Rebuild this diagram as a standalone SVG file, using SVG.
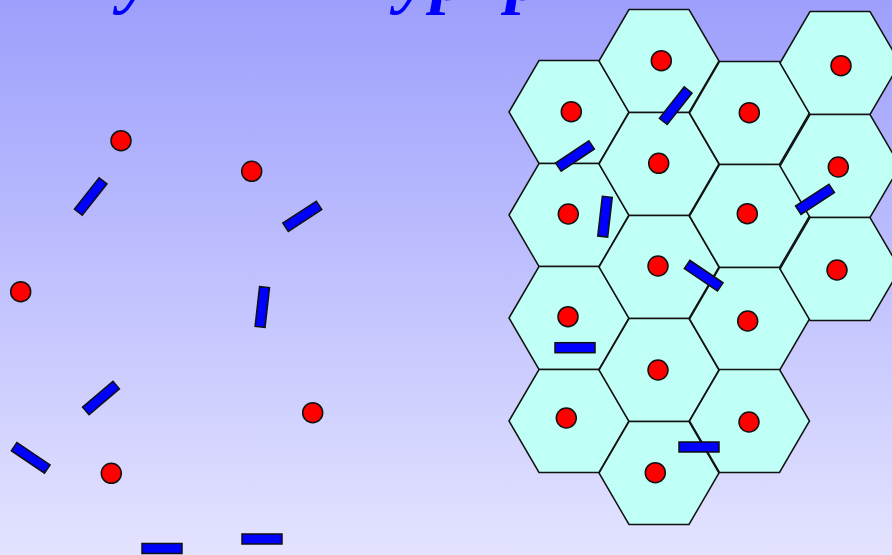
<svg xmlns="http://www.w3.org/2000/svg" width="892" height="555" viewBox="0 0 892 555">
<defs>
<linearGradient id="bg" x1="0" y1="0" x2="0" y2="1">
<stop offset="0" stop-color="#9d9ffc"/>
<stop offset="1" stop-color="#e3e3ff"/>
</linearGradient>
<polygon id="hex" points="-60,0 -30,-51.5 30,-51.5 60,0 30,51.5 -30,51.5"/>
<rect id="bar" x="-20" y="-5" width="40" height="10"/>
</defs>
<style>
.hex{fill:#c0fff6;stroke:#111;stroke-width:1.5}
.dot{fill:#ff0000;stroke:#111;stroke-width:1.5}
.bar{fill:#0000ff;stroke:#111;stroke-width:1.5}
.title{font-family:"Liberation Serif","Times New Roman",serif;font-style:italic;font-weight:bold;font-size:72px;fill:#0000ff}
</style>
<rect width="892" height="555" fill="url(#bg)"/>
<g id="title-fragments">
<text class="title" x="120" y="0">y</text>
<text class="title" x="397" y="0">y</text>
<text class="title" x="431" y="0">p</text>
<text class="title" x="506" y="0">p</text>
</g>
<g id="hexes">
<use href="#hex" class="hex" x="569" y="112"/>
<use href="#hex" class="hex" x="569" y="215"/>
<use href="#hex" class="hex" x="569" y="318"/>
<use href="#hex" class="hex" x="569" y="421"/>
<use href="#hex" class="hex" x="659" y="61"/>
<use href="#hex" class="hex" x="659" y="164"/>
<use href="#hex" class="hex" x="659" y="267"/>
<use href="#hex" class="hex" x="659" y="370"/>
<use href="#hex" class="hex" x="659" y="473"/>
<use href="#hex" class="hex" x="749.5" y="113"/>
<use href="#hex" class="hex" x="749.5" y="216"/>
<use href="#hex" class="hex" x="749.5" y="319"/>
<use href="#hex" class="hex" x="749.5" y="421"/>
<use href="#hex" class="hex" x="840" y="63"/>
<use href="#hex" class="hex" x="840" y="166"/>
<use href="#hex" class="hex" x="840" y="269"/>
</g>
<g id="dots">
<circle class="dot" cx="661.3" cy="60.7" r="10"/>
<circle class="dot" cx="571.3" cy="111.7" r="10"/>
<circle class="dot" cx="749.3" cy="112.7" r="10"/>
<circle class="dot" cx="841" cy="65.7" r="10"/>
<circle class="dot" cx="658.7" cy="163.3" r="10"/>
<circle class="dot" cx="838.3" cy="167" r="10"/>
<circle class="dot" cx="568.3" cy="214" r="10"/>
<circle class="dot" cx="747.3" cy="213.7" r="10"/>
<circle class="dot" cx="658" cy="266" r="10"/>
<circle class="dot" cx="837" cy="270" r="10"/>
<circle class="dot" cx="568" cy="316.7" r="10"/>
<circle class="dot" cx="747.7" cy="321" r="10"/>
<circle class="dot" cx="658" cy="370" r="10"/>
<circle class="dot" cx="566.3" cy="418" r="10"/>
<circle class="dot" cx="749" cy="422" r="10"/>
<circle class="dot" cx="655.3" cy="472.7" r="10"/>
<circle class="dot" cx="121" cy="140.7" r="10"/>
<circle class="dot" cx="251.7" cy="171.3" r="10"/>
<circle class="dot" cx="20.7" cy="291.7" r="10"/>
<circle class="dot" cx="312.7" cy="412.7" r="10"/>
<circle class="dot" cx="111.3" cy="473.3" r="10"/>
</g>
<g id="bars">
<use href="#bar" class="bar" transform="translate(675.7,105.7) rotate(-51.6)"/>
<use href="#bar" class="bar" transform="translate(575,156) rotate(-33.7)"/>
<use href="#bar" class="bar" transform="translate(605,216.7) rotate(-83.4)"/>
<use href="#bar" class="bar" transform="translate(815,199.3) rotate(-33.2)"/>
<use href="#bar" class="bar" transform="translate(703.7,275.7) rotate(34)"/>
<use href="#bar" class="bar" transform="translate(575,347.7)"/>
<use href="#bar" class="bar" transform="translate(699,447)"/>
<use href="#bar" class="bar" transform="translate(90.7,196.5) rotate(-51.8)"/>
<use href="#bar" class="bar" transform="translate(302.3,216.3) rotate(-33.2)"/>
<use href="#bar" class="bar" transform="translate(262.3,307) rotate(-83.6)"/>
<use href="#bar" class="bar" transform="translate(101,398) rotate(-40.5)"/>
<use href="#bar" class="bar" transform="translate(30.7,457.8) rotate(34)"/>
<use href="#bar" class="bar" transform="translate(162,548.5)"/>
<use href="#bar" class="bar" transform="translate(262,539)"/>
</g>
</svg>
